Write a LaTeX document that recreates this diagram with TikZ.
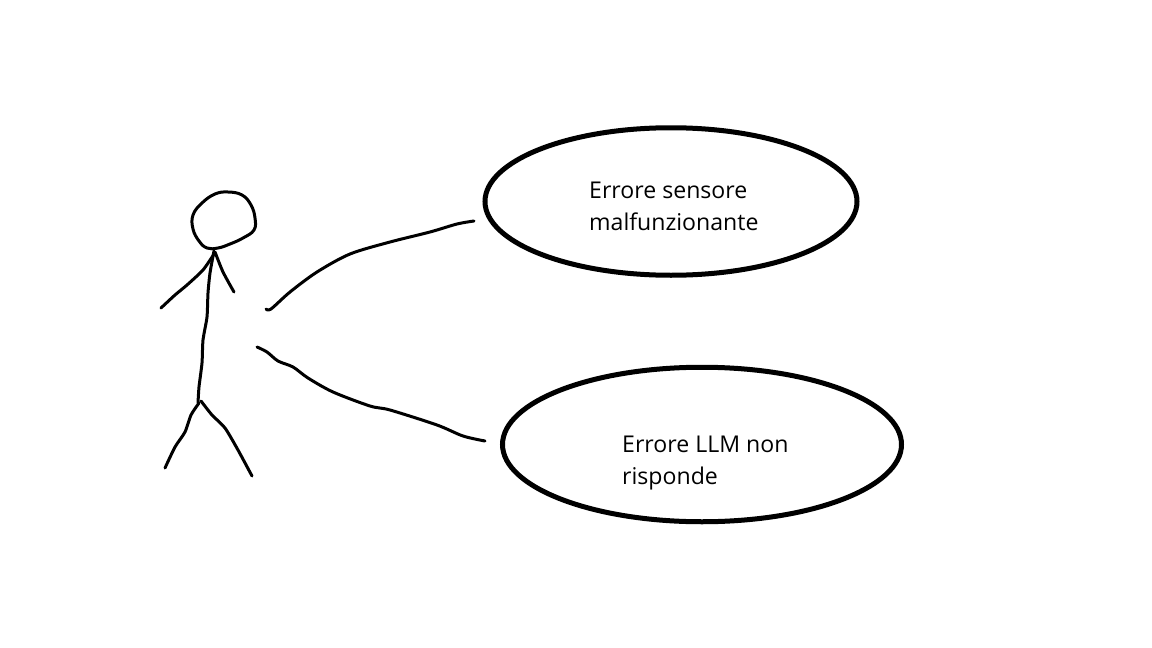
\documentclass[tikz,border=0pt]{standalone}
\usepackage{fontspec}
\setmainfont{Open Sans}
\usetikzlibrary{shapes.geometric}
\tikzset{
  usecase/.style={ellipse,draw=black,line width=5pt,inner sep=0pt,outer sep=0pt},
  hand/.style={draw=black,line width=3pt,line cap=round,line join=round},
  lbl/.style={font=\fontsize{23.1}{32}\selectfont,anchor=west,align=left,inner sep=0pt,text=black}
}
\begin{document}
\begin{tikzpicture}[x=1pt,y=-1pt]
\useasboundingbox (0,0) rectangle (1152,648);
\node[usecase,minimum width=372pt,minimum height=147.5pt] (e1) at (671,201.5) {};
\node[usecase,minimum width=399pt,minimum height=154.5pt] (e2) at (702,444.5) {};
\node[lbl] (t1) at (589,206.5) {Errore sensore\\malfunzionante};
\node[lbl] (t2) at (622,463) {Errore LLM non\\risponde};
\coordinate (c1a) at (266,309);
\coordinate (c1b) at (474,221);
\coordinate (c2a) at (257,347);
\coordinate (c2b) at (485,441);
\draw[hand] plot[smooth,tension=0.5] coordinates {(c1a) (271,309) (290,292) (317,272) (350,254) (390,242) (430,232) (457,224) (c1b)};
\draw[hand] plot[smooth,tension=0.5] coordinates {(c2a) (267,352) (278,361) (293,367) (308,378) (333,392) (370,406) (390,410) (437,425) (463,436) (c2b)};
\draw[hand] plot[smooth cycle,tension=0.7] coordinates {(207,248) (199,241) (193,229) (193,215) (202,203) (215,194) (228,192) (242,195) (251,205) (255,218) (254,230) (243,238) (230,244) (218,248)};
\draw[hand] plot[smooth,tension=0.4] coordinates {(214,251) (210,273) (208,293) (207,317) (203,340) (202,363) (199,387) (198,403)};
\draw[hand] plot[smooth,tension=0.4] coordinates {(214,254) (203,270) (187,285) (175,295) (161,308)};
\draw[hand] plot[smooth,tension=0.4] coordinates {(215,252) (223,272) (234,292)};
\draw[hand] plot[smooth,tension=0.4] coordinates {(199,403) (191,415) (185,432) (175,447) (165,468)};
\draw[hand] plot[smooth,tension=0.4] coordinates {(201,401) (212,415) (225,428) (238,450) (252,476)};
\end{tikzpicture}
\end{document}
